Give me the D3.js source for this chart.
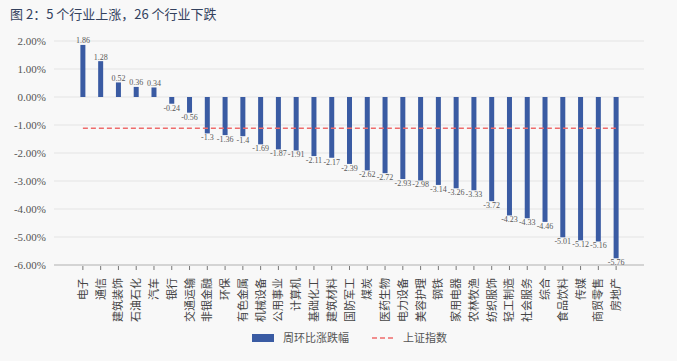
<!DOCTYPE html>
<html>
<head>
<meta charset="utf-8">
<script src="https://cdn.jsdelivr.net/npm/d3@7"></script>
<style>
  body { margin: 0; background: #f8f8f8; }
  svg { display: block; }
</style>
</head>
<body>
<svg width="677" height="361"></svg>
<script>
// industries and weekly change (%)
const categories = ['电子', '通信', '建筑装饰', '石油石化', '汽车', '银行', '交通运输', '非银金融', '环保', '有色金属',
  '机械设备', '公用事业', '计算机', '基础化工', '建筑材料', '国防军工', '煤炭', '医药生物', '电力设备', '美容护理',
  '钢铁', '家用电器', '农林牧渔', '纺织服饰', '轻工制造', '社会服务', '综合', '食品饮料', '传媒', '商贸零售', '房地产'];
const changes = [1.86, 1.28, 0.52, 0.36, 0.34, -0.24, -0.56, -1.3, -1.36, -1.4,
  -1.69, -1.87, -1.91, -2.11, -2.17, -2.39, -2.62, -2.72, -2.93, -2.98,
  -3.14, -3.26, -3.33, -3.72, -4.23, -4.33, -4.46, -5.01, -5.12, -5.16, -5.76];
const indexChange = -1.12;
const yTicks = [2, 1, 0, -1, -2, -3, -4, -5, -6];

const svg = d3.select('svg');
const cjk = '"Noto Sans CJK SC", sans-serif';
const num = '"Liberation Serif", serif';

// title
svg.append('text')
  .attr('x', 10)
  .attr('y', 19)
  .attr('font-family', cjk)
  .attr('font-size', 13)
  .attr('fill', '#33415e')
  .text('图 2：5 个行业上涨，26 个行业下跌');

const x = d3.scaleBand().domain(categories).range([74, 625]);
const y = d3.scaleLinear().domain([-6, 2]).range([265, 41]);
const cx = d => x(d) + x.bandwidth() / 2;

// gridlines
svg.append('g')
  .selectAll('line')
  .data(yTicks.filter(t => t > -6))
  .join('line')
  .attr('x1', 54)
  .attr('x2', 644)
  .attr('y1', d => y(d))
  .attr('y2', d => y(d))
  .attr('stroke', '#e4e4e4')
  .attr('stroke-width', 1);

// y labels
svg.append('g')
  .selectAll('text')
  .data(yTicks)
  .join('text')
  .attr('x', 46)
  .attr('y', d => y(d))
  .attr('dy', '0.35em')
  .attr('text-anchor', 'end')
  .attr('font-family', num)
  .attr('font-size', 11)
  .attr('fill', '#555')
  .text(d => d.toFixed(2) + '%');

// x axis line + ticks
svg.append('line')
  .attr('x1', 54)
  .attr('x2', 644)
  .attr('y1', y(-6))
  .attr('y2', y(-6))
  .attr('stroke', '#d4d4d4')
  .attr('stroke-width', 2);

svg.append('g')
  .selectAll('line')
  .data(categories)
  .join('line')
  .attr('x1', d => cx(d))
  .attr('x2', d => cx(d))
  .attr('y1', y(-6) + 1)
  .attr('y2', y(-6) + 5)
  .attr('stroke', '#777');

// bars
svg.append('g')
  .selectAll('rect')
  .data(changes)
  .join('rect')
  .attr('x', (d, i) => cx(categories[i]) - 2.5)
  .attr('y', d => y(Math.max(0, d)))
  .attr('width', 5)
  .attr('height', d => Math.abs(y(d) - y(0)))
  .attr('fill', '#3a5ba3');

// value labels
svg.append('g')
  .selectAll('text')
  .data(changes)
  .join('text')
  .attr('x', (d, i) => cx(categories[i]))
  .attr('y', d => d >= 0 ? y(d) - 1.5 : y(d) + 7)
  .attr('text-anchor', 'middle')
  .attr('font-family', num)
  .attr('font-size', 8)
  .attr('fill', '#595959')
  .text(d => String(d));

// index line
svg.append('line')
  .attr('x1', cx(categories[0]))
  .attr('x2', cx(categories[categories.length - 1]))
  .attr('y1', y(indexChange))
  .attr('y2', y(indexChange))
  .attr('stroke', '#ee6b6b')
  .attr('stroke-width', 1.5)
  .attr('stroke-dasharray', '5,3');

// category labels
svg.append('g')
  .selectAll('text')
  .data(categories)
  .join('text')
  .attr('transform', d => `translate(${cx(d) + 4},278) rotate(-90)`)
  .attr('text-anchor', 'end')
  .attr('font-family', cjk)
  .attr('font-size', 11)
  .attr('fill', '#444')
  .text(d => d);

// legend
svg.append('rect')
  .attr('x', 252)
  .attr('y', 334)
  .attr('width', 22)
  .attr('height', 8)
  .attr('fill', '#3a5ba3');
svg.append('text')
  .attr('x', 283)
  .attr('y', 338)
  .attr('dy', '0.35em')
  .attr('font-family', cjk)
  .attr('font-size', 11)
  .attr('fill', '#555')
  .text('周环比涨跌幅');
svg.append('line')
  .attr('x1', 372)
  .attr('x2', 394)
  .attr('y1', 338)
  .attr('y2', 338)
  .attr('stroke', '#ee6b6b')
  .attr('stroke-width', 1.5)
  .attr('stroke-dasharray', '5,3');
svg.append('text')
  .attr('x', 403)
  .attr('y', 338)
  .attr('dy', '0.35em')
  .attr('font-family', cjk)
  .attr('font-size', 11)
  .attr('fill', '#555')
  .text('上证指数');
</script>
</body>
</html>
